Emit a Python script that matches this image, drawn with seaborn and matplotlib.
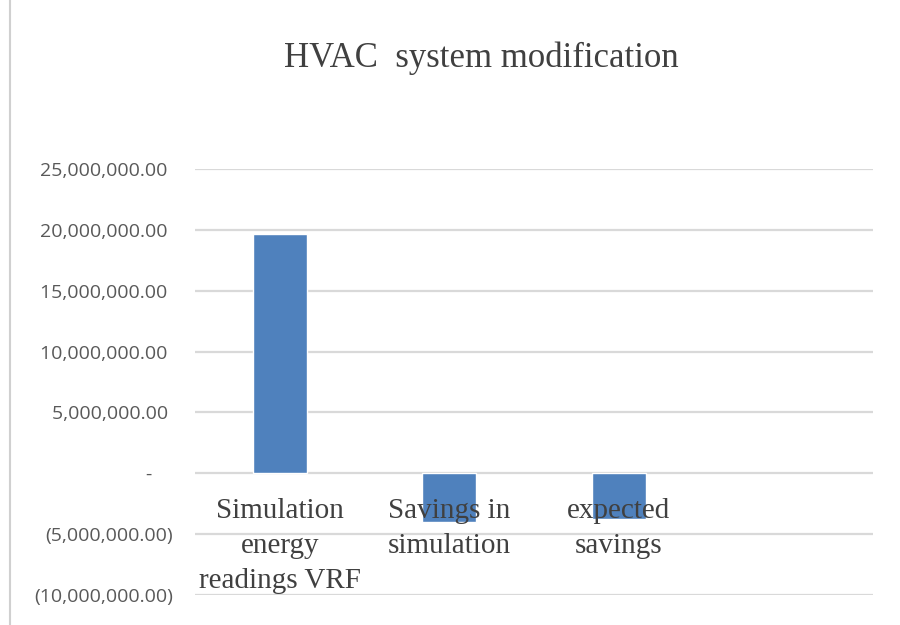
import pandas as pd
import numpy as np

import matplotlib
matplotlib.use("Agg")
import matplotlib.pyplot as plt
from matplotlib.ticker import FuncFormatter
from matplotlib.lines import Line2D

import seaborn as sns


categories = ["Simulation\nenergy\nreadings VRF", "Savings in\nsimulation", "expected\nsavings"]
values = [19650000, -4000000, -3750000]
y_ticks = [-10000000, -5000000, 0, 5000000, 10000000, 15000000, 20000000, 25000000]


def excel_fmt(v, pos):
    if v == 0:
        return "-    "
    if v < 0:
        return "({:,.2f})".format(-v)
    return "{:,.2f} ".format(v)


sns.set_style("white")

data = pd.DataFrame({"Category": categories, "Value": values})

fig = plt.figure(figsize=(9, 6.25), dpi=100)
ax = fig.add_axes([0.2167, 0.048, 0.7533, 0.6816])

sns.barplot(data=data, x="Category", y="Value", color="#4f81bd", saturation=1,
            width=0.32, ax=ax, zorder=2)

ax.set_xlim(-0.5, 3.5)
ax.set_ylim(-10000000, 25000000)
ax.set_yticks(y_ticks)
ax.yaxis.set_major_formatter(FuncFormatter(excel_fmt))
ax.set_xlabel("")
ax.set_ylabel("")

# grid below bars, category labels on top of bars
ax.yaxis.grid(True, color="#d9d9d9", linewidth=1.6)
ax.set_axisbelow(True)
ax.xaxis.set_zorder(3)

for s in ["top", "right", "left"]:
    ax.spines[s].set_visible(False)
ax.spines["bottom"].set_position(("data", 0))
ax.spines["bottom"].set_visible(False)

ax.tick_params(axis="x", length=0, pad=18)
ax.tick_params(axis="y", length=0, pad=16)
for lab in ax.get_xticklabels():
    lab.set_fontfamily("Liberation Serif")
    lab.set_fontsize(21)
    lab.set_color("#404040")
    lab.set_linespacing(1.45)
for lab in ax.get_yticklabels():
    lab.set_fontfamily("Open Sans")
    lab.set_fontsize(14)
    lab.set_color("#595959")

fig.text(0.535, 0.907, "HVAC  system modification", ha="center", va="center",
         fontfamily="Liberation Serif", fontsize=25, color="#404040")

fig.add_artist(Line2D([0.011, 0.011], [0, 1], transform=fig.transFigure,
                      color="#d0d0d0", linewidth=1.5))

plt.savefig("out.png", dpi=100)
